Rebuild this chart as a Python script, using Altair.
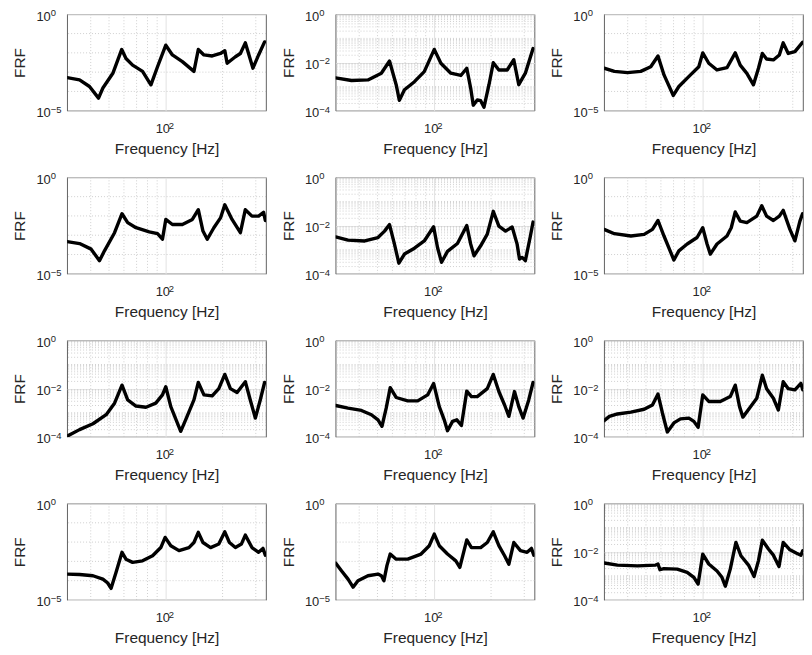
import altair as alt
import pandas as pd

# ---------------- data (frequency in Hz, FRF magnitude) -------------
f1 = [30, 34.9, 39.4, 44.0, 46.4, 52.4, 58.4, 61.5, 66.7, 75.3, 83.4, 90.4, 100, 108.4, 122.4, 141,
      148.7, 159.3, 176.2, 195, 205.5, 211.5, 233.9, 248.6, 264, 289.8, 310.5, 334]
h1 = [5.2e-4, 4.0e-4, 1.8e-4, 4.5e-5, 1.5e-4, 8.7e-4, 1.5e-2, 5.1e-3, 2.3e-3, 1.1e-3, 2.2e-4, 1.9e-3,
      2.5e-2, 7.8e-3, 3.5e-3, 1.1e-3, 1.5e-2, 7.8e-3, 6.9e-3, 9.3e-3, 1.3e-2, 2.9e-3, 6.3e-3, 9.3e-3,
      3.3e-2, 1.6e-3, 7.8e-3, 3.7e-2]

f2 = [30, 36.4, 44.5, 52.4, 57.9, 62.8, 65.3, 69.5, 78.5, 88.5, 100, 108.4, 122.4, 138.3, 148.7, 156,
      161, 169, 176.2, 183.5, 195, 205.5, 220, 243.5, 264, 280.5, 304, 334]
h2 = [2.3e-3, 1.8e-3, 1.9e-3, 3.6e-3, 1.15e-2, 1.2e-3, 2.7e-4, 7.4e-4, 1.6e-3, 4.2e-3, 3.5e-2, 9.3e-3,
      3.6e-3, 2.9e-3, 5.8e-3, 8.5e-4, 1.7e-4, 2.8e-4, 2.6e-4, 1.4e-4, 1.2e-3, 9.8e-3, 4.9e-3, 4.9e-3,
      1.3e-2, 1.2e-3, 3.6e-3, 3.8e-2]

f3 = [30, 34.0, 39.9, 46.9, 53, 57.9, 62.3, 69.8, 74.7, 86.1, 95.3, 100, 107.6, 119, 134.4, 148.7, 158,
      171.3, 185.7, 197.4, 207, 218, 236.8, 254.6, 267, 284, 308, 338]
h3 = [1.6e-3, 1.1e-3, 9.5e-4, 1.1e-3, 1.9e-3, 6.9e-3, 7.2e-4, 6.2e-5, 1.8e-4, 7.2e-4, 1.9e-3, 1.0e-2,
      2.9e-3, 1.3e-3, 1.7e-3, 1.0e-2, 2.3e-3, 8.7e-4, 2.2e-4, 1.6e-3, 9.3e-3, 4.8e-3, 4.3e-3, 7.8e-3,
      3.3e-2, 9.3e-3, 1.15e-2, 3.5e-2]

f4 = [30, 34.9, 40.2, 44.5, 47.3, 53.5, 58.6, 62.8, 69.5, 81.7, 90.4, 96.0, 100, 108.4, 122.4, 138.3,
      148.7, 157.4, 165.9, 179.8, 195, 205.5, 224.5, 248.6, 264, 286.3, 310.5, 329.9, 337]
h4 = [4.7e-4, 3.7e-4, 1.9e-4, 4.8e-5, 1.55e-4, 1.35e-3, 1.3e-2, 4.5e-3, 2.45e-3, 1.5e-3, 1.2e-3, 6.2e-4,
      6.6e-3, 3.6e-3, 3.6e-3, 6.6e-3, 2.1e-2, 1.65e-3, 6.2e-4, 2.45e-3, 7.9e-3, 3.8e-2, 6.6e-3, 1.35e-3,
      2.1e-2, 9.8e-3, 9.8e-3, 1.55e-2, 5.8e-3]

f5 = [30, 34.9, 42.8, 50.3, 54.5, 57.9, 61.5, 64.9, 69.5, 78.5, 88.5, 99.2, 104.1, 109.3, 117.5, 132.7,
      148.7, 156, 162.5, 176.2, 191, 205.5, 220, 238.7, 258.8, 274.9, 283, 292.2, 304, 323.3, 334]
h5 = [3.4e-3, 2.5e-3, 2.3e-3, 3.2e-3, 5.9e-3, 1.1e-2, 1.7e-3, 2.75e-4, 6.6e-4, 1.15e-3, 2.3e-3, 8.9e-3,
      1.2e-3, 3.0e-4, 8.5e-4, 1.8e-3, 1.0e-2, 1.7e-3, 5.6e-4, 1.45e-3, 4.4e-3, 3.9e-2, 9.5e-3, 5.9e-3,
      8.7e-3, 1.7e-3, 4.1e-4, 4.8e-4, 3.5e-4, 3.7e-3, 1.4e-2]

f6 = [30, 34.0, 41.6, 48.9, 54.1, 57.9, 62.3, 70.3, 74.7, 82.7, 93.3, 100, 105.4, 109.7, 119, 134.4,
      141.6, 148.7, 158, 171.3, 193.4, 205.5, 218, 236.8, 254.6, 267, 289.8, 308, 327.4, 338]
h6 = [2.0e-3, 1.2e-3, 9.1e-4, 1.1e-3, 2.0e-3, 5.8e-3, 9.1e-4, 5.2e-5, 1.55e-4, 3.5e-4, 7.6e-4, 2.45e-3,
      3.5e-4, 1.05e-4, 3.5e-4, 9.1e-4, 2.45e-3, 1.6e-2, 5.4e-3, 4.5e-3, 9.8e-3, 3.4e-2, 9.8e-3, 5.8e-3,
      9.8e-3, 1.95e-2, 2.0e-3, 5.1e-4, 5.4e-3, 1.3e-2]

f7 = [30, 34.9, 41.1, 48.3, 53.5, 58.6, 62.8, 69.5, 78.5, 88.5, 96.0, 100, 106.3, 120, 127.4, 141,
      148.7, 159.3, 176.2, 191, 205.5, 220, 238.7, 264, 280.5, 298.4, 316.8, 334]
h7 = [1.07e-4, 2.0e-4, 3.5e-4, 8.3e-4, 2.5e-3, 1.4e-2, 3.4e-3, 1.9e-3, 1.7e-3, 2.5e-3, 5.5e-3, 1.2e-2,
      1.8e-3, 1.7e-4, 5.1e-4, 3.4e-3, 1.8e-2, 5.5e-3, 5.0e-3, 1.0e-2, 3.9e-2, 1.0e-2, 6.9e-3, 1.95e-2,
      3.4e-3, 6.0e-4, 3.4e-3, 1.8e-2]

f8 = [30, 34.9, 41.1, 46.4, 50.3, 52.8, 55.6, 58.4, 62.8, 72.3, 81.7, 92.2, 99.2, 106.3, 112.9, 117.5,
      125, 131.7, 139.3, 148.7, 157.4, 169, 191, 205.5, 220, 235.9, 248.6, 266.2, 280.5, 295.8, 316.8, 334]
h8 = [2.0e-3, 1.55e-3, 1.25e-3, 8.3e-4, 5.1e-4, 2.75e-4, 1.55e-3, 1.1e-2, 4.3e-3, 3.1e-3, 3.1e-3, 5.5e-3,
      1.65e-2, 1.8e-3, 5.1e-4, 1.8e-4, 4.4e-4, 5.1e-4, 2.95e-4, 7.9e-3, 4.7e-3, 4.7e-3, 1.0e-2, 3.9e-2,
      7.6e-3, 2.1e-3, 7.1e-4, 7.6e-3, 1.8e-3, 6.0e-4, 3.4e-3, 1.8e-2]

f9 = [30, 32, 35.3, 41.6, 48.9, 54.1, 57.9, 61.1, 64.9, 70.3, 76.2, 84.4, 89.7, 94.5, 100, 107.6, 123.9,
      139.9, 148.7, 156.7, 163.2, 178.4, 193.4, 207, 218, 236.8, 251.6, 267, 284, 308, 331.4, 339]
h9 = [4.7e-4, 7.1e-4, 8.9e-4, 1.07e-3, 1.4e-3, 2.1e-3, 6.0e-3, 9.8e-4, 1.6e-4, 3.8e-4, 5.6e-4, 6.0e-4,
      4.4e-4, 2.5e-4, 5.5e-3, 2.95e-3, 2.95e-3, 4.7e-3, 1.4e-2, 1.8e-3, 6.6e-4, 1.7e-3, 4.0e-3, 3.6e-2,
      1.0e-2, 4.0e-3, 1.3e-3, 1.95e-2, 1.0e-2, 8.9e-3, 1.65e-2, 8.9e-3]

f10 = [30, 34.9, 41.1, 46.4, 49.2, 51.3, 54.5, 58.6, 61.5, 66.7, 75.3, 85.1, 94.1, 99.2, 106.3, 117.5,
       132.7, 141, 148.7, 157.4, 172.7, 191, 205.5, 217.4, 233.9, 251.6, 264, 286.3, 310.5, 327.4, 337]
h10 = [2.2e-4, 2.1e-4, 1.8e-4, 1.2e-4, 7.6e-5, 4.0e-5, 2.7e-4, 2.95e-3, 1.3e-3, 8.9e-4, 1.07e-3, 1.95e-3,
       5.2e-3, 1.75e-2, 6.5e-3, 3.6e-3, 5.2e-3, 9.5e-3, 3.2e-2, 9.5e-3, 5.2e-3, 7.9e-3, 3.4e-2, 9.5e-3,
       5.2e-3, 7.9e-3, 2.3e-2, 5.2e-3, 2.95e-3, 4.7e-3, 2.1e-3]

f11 = [30, 32.2, 34.9, 37.1, 39.4, 44.5, 50.3, 52.4, 54.1, 56.1, 58.4, 62.8, 72.3, 85.1, 94.1, 100,
       106.3, 117.5, 130.1, 136.6, 148.7, 157.4, 176.2, 191, 205.5, 220, 235.9, 248.6, 264, 286.3, 310.5,
       327.4, 337]
h11 = [8.1e-4, 3.3e-4, 1.2e-4, 4.6e-5, 1.0e-4, 1.8e-4, 2.2e-4, 1.8e-4, 1.0e-4, 6.0e-4, 2.4e-3, 1.3e-3,
       1.3e-3, 2.4e-3, 6.5e-3, 2.6e-2, 6.5e-3, 2.4e-3, 1.07e-3, 4.9e-4, 1.3e-2, 5.2e-3, 5.2e-3, 9.5e-3,
       3.4e-2, 6.5e-3, 1.95e-3, 7.2e-4, 9.5e-3, 3.6e-3, 2.95e-3, 4.7e-3, 2.1e-3]

f12 = [30, 35.3, 45.1, 56.3, 57.9, 59.3, 62.3, 73.2, 82.7, 89.7, 94.5, 100, 107.6, 119, 126.4, 131.7,
       139.9, 149.9, 159.3, 174.8, 187.2, 197.4, 207, 222.9, 236.8, 253.6, 267, 289.8, 314.4, 331.4, 339]
h12 = [3.4e-3, 2.8e-3, 2.6e-3, 2.8e-3, 3.1e-3, 1.8e-3, 2.0e-3, 1.9e-3, 1.4e-3, 8.7e-4, 4.6e-4, 7.9e-3,
       3.1e-3, 1.6e-3, 8.7e-4, 3.7e-4, 1.9e-3, 2.45e-2, 6.8e-3, 2.8e-3, 9.5e-4, 4.3e-3, 3.0e-2, 1.3e-2,
       7.2e-3, 2.45e-3, 2.45e-2, 1.2e-2, 8.7e-3, 7.2e-3, 1.1e-2]

FREQS = [f1, f2, f3, f4, f5, f6, f7, f8, f9, f10, f11, f12]
FRFS = [h1, h2, h3, h4, h5, h6, h7, h8, h9, h10, h11, h12]
# lower y limit of each panel (upper limit is 10^0)
Y_LOW = [1e-5, 1e-4, 1e-5, 1e-5, 1e-4, 1e-5, 1e-4, 1e-4, 1e-4, 1e-5, 1e-5, 1e-4]

# ---------------- ticks and tick labels (written as 10 with a superscript exponent) -----------
X_DOMAIN = [30, 340]
X_TICKS = [100]
X_EXP = ["2"]
X_MINOR = [40, 50, 60, 70, 80, 90, 200, 300]
Y_TICKS_5 = [1e-5, 1]
Y_EXP_5 = ["\u22125", "0"]
Y_TICKS_4 = [1e-4, 1e-2, 1]
Y_EXP_4 = ["\u22124", "\u22122", "0"]
Y_MINOR_5 = [1e-4, 1e-3, 1e-2, 1e-1]
Y_MINOR_4 = [m * 10.0 ** e for e in (-4, -3, -2, -1) for m in range(1, 10)
             if not (m == 1 and e in (-4, -2))]

FONT = "Liberation Sans"
TXT = "#262626"
W, H = 200, 97
SUP = 9.5


def panel(i):
    df = pd.DataFrame({"f": FREQS[i], "h": FRFS[i]})
    low = Y_LOW[i]
    five = low < 5e-5
    xs = alt.Scale(type="log", domain=X_DOMAIN, nice=False)
    ys = alt.Scale(type="log", domain=[low, 1], nice=False)
    y_ticks = Y_TICKS_5 if five else Y_TICKS_4
    y_exp = Y_EXP_5 if five else Y_EXP_4
    y_minor = Y_MINOR_5 if five else Y_MINOR_4

    x_axis = alt.Axis(values=X_TICKS, labelExpr="'10'", title="Frequency [Hz]",
                      grid=True, labelPadding=12, labelOffset=-3.5, titlePadding=6)
    y_axis = alt.Axis(values=y_ticks, labelExpr="'10'", title="FRF",
                      grid=True, labelPadding=17, labelOffset=2, titlePadding=8)

    vgrid = alt.Chart(pd.DataFrame({"f": X_MINOR})).mark_rule(
        color="#c4c4c4", strokeDash=[1, 2], strokeWidth=0.8
    ).encode(x=alt.X("f:Q", scale=xs, axis=x_axis))
    hgrid = alt.Chart(pd.DataFrame({"h": y_minor})).mark_rule(
        color="#c4c4c4", strokeDash=[1, 2], strokeWidth=0.8
    ).encode(y=alt.Y("h:Q", scale=ys, axis=y_axis))

    line = alt.Chart(df).mark_line(
        color="black", strokeWidth=3.4, strokeJoin="round", strokeCap="round", clip=True
    ).encode(
        x=alt.X("f:Q", scale=xs, axis=x_axis),
        y=alt.Y("h:Q", scale=ys, axis=y_axis),
    )

    y_sup = alt.Chart(pd.DataFrame({"h": y_ticks, "s": y_exp})).mark_text(
        align="left", baseline="middle", dy=-1, fontSize=SUP, font=FONT, color=TXT
    ).encode(y=alt.Y("h:Q", scale=ys, axis=y_axis), x=alt.value(-16.5), text="s:N")
    x_sup = alt.Chart(pd.DataFrame({"f": X_TICKS, "s": X_EXP})).mark_text(
        align="left", baseline="top", dx=3, fontSize=SUP, font=FONT, color=TXT
    ).encode(x=alt.X("f:Q", scale=xs, axis=x_axis), y=alt.value(H + 10), text="s:N")

    return alt.layer(vgrid, hgrid, line, y_sup, x_sup).properties(width=W, height=H)


chart = alt.concat(
    *[panel(i) for i in range(12)],
    columns=3,
    spacing={"row": 67, "column": 70},
    bounds="flush",
).properties(
    padding={"left": 4.5, "top": -2.5, "right": 0, "bottom": 0},
    background="white",
).configure_axis(
    labelFont=FONT, titleFont=FONT, labelFontSize=13, titleFontSize=15.5,
    titleFontWeight="normal", labelColor=TXT, titleColor=TXT,
    domain=False, ticks=False, gridColor="#e2e2e2", gridWidth=1,
).configure_view(stroke="#3a3a3a", strokeWidth=0.8)

chart.save("out.html", embed_options={"renderer": "svg", "actions": False})
